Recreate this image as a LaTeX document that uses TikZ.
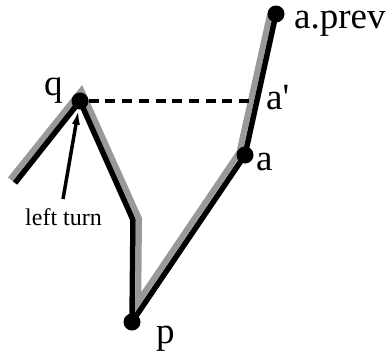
\documentclass[tikz,border=0pt]{standalone}
\usepackage{fontspec}
\setmainfont{Liberation Serif}
\usetikzlibrary{arrows.meta}
\begin{document}
\begin{tikzpicture}[x=1pt,y=-1pt,
  dot/.style={circle,fill=black,inner sep=0pt,minimum size=17pt},
  hull/.style={line width=5.5pt,black,line join=round},
  shade/.style={line width=6pt,black!40,line join=miter},
  lbl/.style={anchor=base west,inner sep=0pt,font=\fontsize{37}{37}\selectfont},
  small/.style={anchor=base west,inner sep=0pt,font=\fontsize{24}{24}\selectfont}]
\useasboundingbox (0,0) rectangle (390,353);
% shaded offset chain
\coordinate (g1) at (10.3,179.3);
\coordinate (g2) at (81.4,90.7);
\coordinate (g3) at (139.0,218.6);
\coordinate (g4) at (138.2,302.0);
\coordinate (g5) at (239.4,152.4);
\coordinate (g6) at (270.1,14);
\draw[shade] (g1) -- (g2) -- (g3) -- (g4) -- (g5) -- (g6);
% chain points
\coordinate (L) at (15,183);
\coordinate (B) at (133,220);
\node[dot] (q) at (80,101) {};
\node[dot] (p) at (132,322) {};
\node[dot] (a) at (245,155) {};
\node[dot] (t) at (276,14) {};
\draw[hull] (L) -- (q.center) -- (B) -- (p.center) -- (a.center) -- (t.center);
% dashed
\coordinate (ap) at (250,101);
\draw[line width=3.5pt,dash pattern=on 10pt off 6.7pt] (q) -- (ap);
% labels
\node[lbl] (ql) at (44,95) {q};
\node[lbl] (tl) at (294,29) {a.prev};
\node[lbl] (apl) at (266,109) {a\textquotesingle};
\node[lbl] (al) at (256,170) {a};
\node[lbl] (pl) at (156,343) {p};
\node[small] (lt) at (25,225) {left turn};
\coordinate (tail) at (63,199);
\draw[line width=3.5pt,-{Latex[length=15pt,width=8pt]}] (tail) -- (q);
\end{tikzpicture}
\end{document}
